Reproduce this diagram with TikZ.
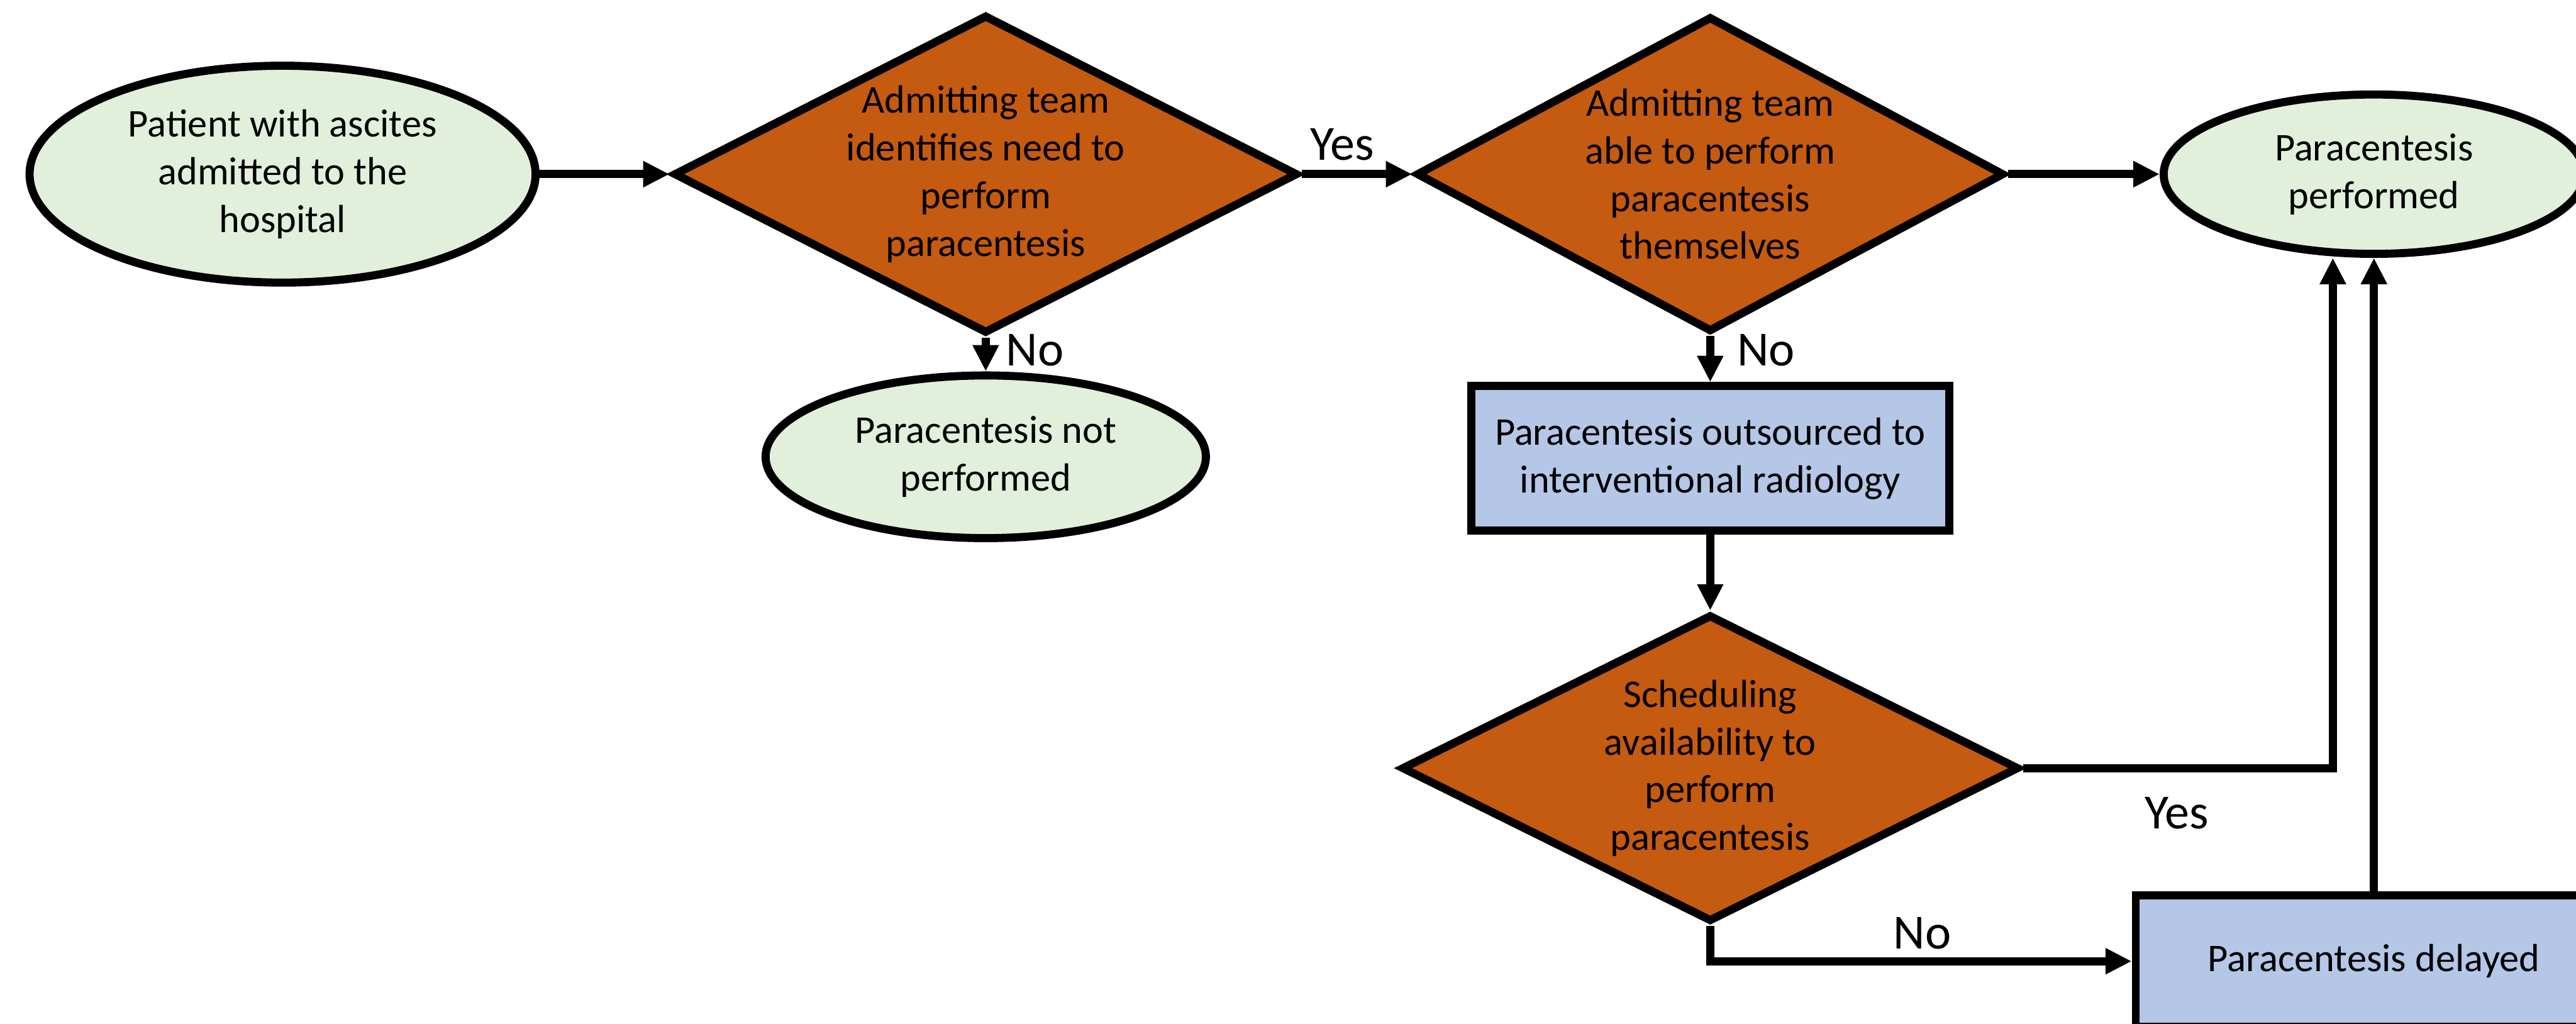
\documentclass[tikz,border=0pt]{standalone}
\usepackage{fontspec}
\setmainfont{Carlito}
\usetikzlibrary{shapes.geometric, arrows.meta}
\definecolor{termgreen}{HTML}{E2EFDA}
\definecolor{decorange}{HTML}{C55A11}
\definecolor{procblue}{HTML}{B4C7E7}

\begin{document}
\begin{tikzpicture}[
	term/.style={ellipse, draw=black, line width=1.4pt, fill=termgreen, inner sep=0pt, align=center, font=\fontsize{6.8}{8.25}\selectfont},
	decision/.style={diamond, draw=black, line width=1.4pt, fill=decorange, inner sep=0pt, align=center, font=\fontsize{6.8}{8.25}\selectfont},
	proc/.style={rectangle, draw=black, line width=1.4pt, fill=procblue, inner sep=0pt, align=center, font=\fontsize{6.8}{8.25}\selectfont},
	lbl/.style={font=\fontsize{8.5}{10}\selectfont},
	arr/.style={line width=1.4pt, -{Triangle[length=0.16cm,width=0.15cm]}}
]
\useasboundingbox (0,0) rectangle (15.68,6.23);
	% top row
	\node[term, minimum width=3.08cm, minimum height=1.32cm] (pat) at (1.72,5.17) {Patient with ascites\\admitted to the\\hospital};
	\node[decision, minimum width=3.76cm, minimum height=1.92cm, aspect=1.96] (d1) at (6.00,5.17) {Admitting team\\identifies need to\\perform\\paracentesis};
	\node[decision, minimum width=3.58cm, minimum height=1.92cm, aspect=1.86] (d2) at (10.41,5.17) {Admitting team\\able to perform\\paracentesis\\themselves};
	\node[term, minimum width=2.56cm, minimum height=0.97cm] (done) at (14.45,5.17) {Paracentesis\\performed};
	% lower part
	\node[term, minimum width=2.68cm, minimum height=0.99cm] (nodone) at (6.00,3.45) {Paracentesis not\\performed};
	\node[proc, minimum width=2.91cm, minimum height=0.88cm] (ir) at (10.41,3.44) {Paracentesis outsourced to\\interventional radiology};
	\node[decision, minimum width=3.76cm, minimum height=1.87cm, aspect=2.01] (d3) at (10.41,1.555) {Scheduling\\availability to\\perform\\paracentesis};
	\node[proc, minimum width=2.90cm, minimum height=0.80cm] (dly) at (14.45,0.38) {Paracentesis delayed};
	%
	\coordinate (up1) at (14.20,1.555);
	\draw[arr] (pat) -- (d1);
	\draw[arr] (d1) -- (d2);
	\draw[arr] (d2) -- (done);
	\draw[arr] (d1) -- (nodone);
	\draw[arr] (d2) -- (ir);
	\draw[arr] (ir) -- (d3);
	\draw[arr] (d3.east) -- (up1) -- (up1 |- done.south);
	\draw[arr] (d3.south) |- (dly.west);
	\draw[arr] (dly.north) -- (done.south);
	%
	\node[lbl] (yes1) at (8.17,5.35) {Yes};
	\node[lbl] (no1) at (6.30,4.10) {No};
	\node[lbl] (no2) at (10.75,4.10) {No};
	\node[lbl] (yes2) at (13.25,1.28) {Yes};
	\node[lbl] (no3) at (11.70,0.55) {No};
\end{tikzpicture}
\end{document}
